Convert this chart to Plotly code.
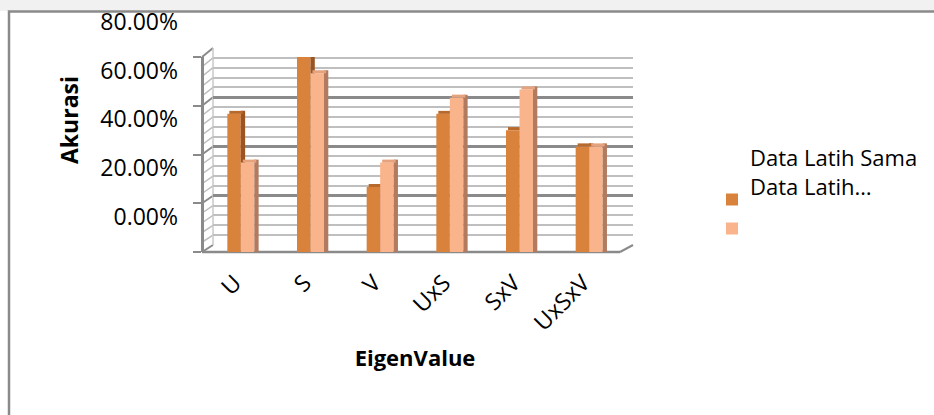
import plotly.graph_objects as go

# ---------------- data ----------------
categories = ["U", "S", "V", "UxS", "SxV", "UxSxV"]
series_names = ["Data Latih Sama", "Data Latih…"]
dark_values = [56.67, 80.00, 26.67, 56.67, 50.00, 43.33]
light_values = [36.67, 73.33, 36.67, 63.33, 66.67, 43.33]
y_tick_values = [0, 20, 40, 60, 80]
y_tick_text = ["0.00%", "20.00%", "40.00%", "60.00%", "80.00%"]
x_title = "EigenValue"
y_title = "Akurasi"

# ---------------- geometry (pixels) ----------------
W, H = 934, 415


def fx(p):
    return p / W


def fy(p):
    return 1 - p / H


FRONT_X, BACK_X = 202, 213
FRONT_BOTTOM_Y, FRONT_TOP_Y = 252, 57
BACK_BOTTOM_Y, BACK_TOP_Y = 245, 48
FLOOR_RIGHT_X, BACK_RIGHT_X = 620, 633
DATA_X0, DATA_X1 = 206, 624
LABEL_BOTTOM_Y, LABEL_TOP_Y = 226, 14

cat_px = (DATA_X1 - DATA_X0) / len(categories)
bar_w = 13.5 / cat_px
side_w = 4.3 / cat_px
cap_shift = 2.0 / cat_px
px_per_unit = (FRONT_BOTTOM_Y - FRONT_TOP_Y) / 80.0
cap_h = 3.0 / px_per_unit

DARK, DARK_SIDE, DARK_CAP = "#D9823C", "#9A5523", "#B8692C"
LIGHT, LIGHT_SIDE, LIGHT_CAP = "#F9B48B", "#B27B60", "#E6A27C"
FONT = "Open Sans"

fig = go.Figure()

# back-wall grid subplot (drawn first, underneath)
fig.add_trace(go.Scatter(x=[], y=[], xaxis="x", yaxis="y", showlegend=False, hoverinfo="skip"))
# label axis subplot
fig.add_trace(go.Scatter(x=[], y=[], xaxis="x", yaxis="y3", showlegend=False, hoverinfo="skip"))

for vals, name, c_front, c_side, c_cap, off in [
    (dark_values, series_names[0], DARK, DARK_SIDE, DARK_CAP, -bar_w),
    (light_values, series_names[1], LIGHT, LIGHT_SIDE, LIGHT_CAP, 0.0),
]:
    fig.add_trace(go.Bar(
        x=categories, y=vals, offset=off, width=bar_w, name="",
        marker=dict(color=c_front, line=dict(width=0)),
        xaxis="x2", yaxis="y2", showlegend=True, hovertext=name,
    ))
    fig.add_trace(go.Bar(
        x=categories, y=[v + cap_h for v in vals], base=0, offset=off + bar_w, width=side_w,
        marker=dict(color=c_side, line=dict(width=0)),
        xaxis="x2", yaxis="y2", showlegend=False, hoverinfo="skip",
    ))
    fig.add_trace(go.Bar(
        x=categories, y=[cap_h for _ in vals], base=vals, offset=off + cap_shift, width=bar_w,
        marker=dict(color=c_cap, line=dict(width=0)),
        xaxis="x2", yaxis="y2", showlegend=False, hoverinfo="skip",
    ))

# ---------------- decoration shapes (3D walls / floor / border) ----------------
shapes = []
shapes.append(dict(type="rect", xref="paper", yref="paper", x0=0, x1=1, y0=fy(11), y1=1,
                   fillcolor="#f1f1f1", line=dict(width=0), layer="below"))
shapes.append(dict(type="rect", xref="paper", yref="paper", x0=fx(9), x1=fx(W + 10), y0=fy(H + 10), y1=fy(11.5),
                   fillcolor="rgba(0,0,0,0)", line=dict(color="#8a8a8a", width=2.5), layer="below"))
for v in range(0, 81, 4):
    yf = FRONT_BOTTOM_Y - v * (FRONT_BOTTOM_Y - FRONT_TOP_Y) / 80
    yb = BACK_BOTTOM_Y - v * (BACK_BOTTOM_Y - BACK_TOP_Y) / 80
    major = v % 20 == 0
    shapes.append(dict(type="line", xref="paper", yref="paper", x0=fx(FRONT_X), y0=fy(yf),
                       x1=fx(BACK_X), y1=fy(yb),
                       line=dict(color="#8a8a8a" if major else "#bdbdbd", width=2 if major else 1.5),
                       layer="below"))
shapes.append(dict(type="line", xref="paper", yref="paper", x0=fx(BACK_X), y0=fy(BACK_BOTTOM_Y),
                   x1=fx(BACK_X), y1=fy(BACK_TOP_Y), line=dict(color="#c8c8c8", width=1.5), layer="below"))
shapes.append(dict(type="line", xref="paper", yref="paper", x0=fx(FRONT_X), y0=fy(FRONT_BOTTOM_Y),
                   x1=fx(FLOOR_RIGHT_X), y1=fy(FRONT_BOTTOM_Y), line=dict(color="#8a8a8a", width=2.5),
                   layer="below"))
shapes.append(dict(type="line", xref="paper", yref="paper", x0=fx(FLOOR_RIGHT_X), y0=fy(FRONT_BOTTOM_Y),
                   x1=fx(BACK_RIGHT_X), y1=fy(BACK_BOTTOM_Y), line=dict(color="#8a8a8a", width=2),
                   layer="below"))

label_range = [-(LABEL_BOTTOM_Y - 217) / 2.44, 80 + (21.7 - LABEL_TOP_Y) / 2.44]

fig.update_layout(
    width=W, height=H,
    margin=dict(l=0, r=0, t=0, b=0, pad=0, autoexpand=False),
    paper_bgcolor="white", plot_bgcolor="rgba(0,0,0,0)",
    barmode="overlay",
    font=dict(family=FONT, size=22, color="black"),
    showlegend=True,
    legend=dict(x=fx(712), y=fy(180), xanchor="left", yanchor="top",
                font=dict(size=20), bgcolor="rgba(0,0,0,0)", tracegroupgap=0),
    shapes=shapes,
    # back wall grid
    xaxis=dict(domain=[fx(BACK_X), fx(BACK_RIGHT_X)], range=[0, 1], showgrid=False,
               showticklabels=False, zeroline=False, showline=False, ticks=""),
    yaxis=dict(domain=[fy(BACK_BOTTOM_Y), fy(BACK_TOP_Y)], range=[0, 80], anchor="x",
               tickmode="linear", tick0=0, dtick=20, showticklabels=False, ticks="",
               zeroline=False, showline=False,
               showgrid=True, gridcolor="#8a8a8a", gridwidth=2.5,
               minor=dict(tick0=0, dtick=4, showgrid=True, gridcolor="#bfbfbf", gridwidth=2)),
    # data axes
    xaxis2=dict(domain=[fx(DATA_X0), fx(DATA_X1)], anchor="y2", type="category",
                categoryorder="array", categoryarray=categories, range=[-0.5, len(categories) - 0.5],
                showgrid=False, zeroline=False, showline=False, ticks="",
                tickangle=-45, tickfont=dict(size=23), ticklabelstandoff=12, ticklabelshift=-6,
                title=dict(text=x_title, font=dict(size=22, weight="bold"), standoff=14)),
    yaxis2=dict(domain=[fy(FRONT_BOTTOM_Y), fy(FRONT_TOP_Y)], range=[0, 80], anchor="free",
                position=fx(FRONT_X), tickvals=y_tick_values, showticklabels=False,
                ticks="outside", ticklen=8, tickwidth=2, tickcolor="#8a8a8a",
                showline=True, linecolor="#8a8a8a", linewidth=2.5, showgrid=False, zeroline=False),
    # tick-label axis (labels drawn offset as in reference)
    yaxis3=dict(domain=[fy(LABEL_BOTTOM_Y), fy(LABEL_TOP_Y)], range=label_range, anchor="free",
                position=fx(178), tickvals=y_tick_values, ticktext=y_tick_text,
                ticks="", showline=False, showgrid=False, zeroline=False,
                tickfont=dict(size=23),
                title=dict(text=y_title, font=dict(size=23, weight="bold"), standoff=14)),
    annotations=[
        dict(text=series_names[0] + "<br>" + series_names[1], x=fx(748), y=fy(171), xref="paper", yref="paper",
             xanchor="left", yanchor="middle", align="left", showarrow=False, font=dict(size=22)),
    ],
)

fig.write_html("out.html")
